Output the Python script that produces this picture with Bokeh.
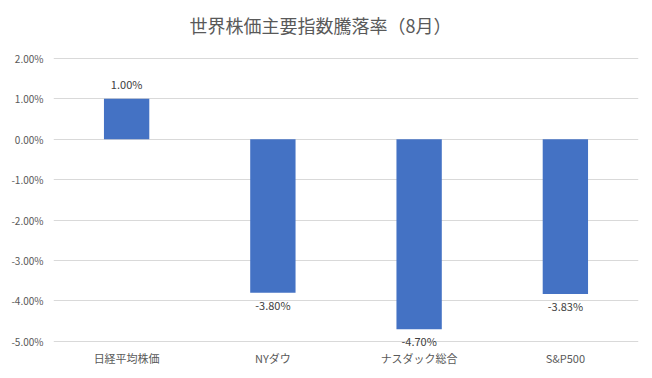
from bokeh.plotting import figure
from bokeh.models import ColumnDataSource, NumeralTickFormatter, FixedTicker, LabelSet, Label, Range1d
from bokeh.core.properties import value
from bokeh.embed import file_html
from bokeh.resources import INLINE

title_text = "世界株価主要指数騰落率（8月）"
categories = ["日経平均株価", "NYダウ", "ナスダック総合", "S&P500"]
values = [0.0100, -0.0380, -0.0470, -0.0383]
value_labels = ["1.00%", "-3.80%", "-4.70%", "-3.83%"]
y_ticks = [-0.05, -0.04, -0.03, -0.02, -0.01, 0.0, 0.01, 0.02]

FONT = "Noto Sans CJK JP"

source = ColumnDataSource(dict(cat=categories, val=values, lab=value_labels,
                               base=[0.0] * len(values),
                               yoff=[7 if v > 0 else -4 for v in values],
                               anchor=["bottom" if v > 0 else "top" for v in values]))

# extended range so the title and labels can sit inside the (invisible) frame area
p = figure(width=652, height=378, x_range=categories, y_range=Range1d(-0.0535, 0.03431),
           output_backend="svg", toolbar_location=None,
           min_border_left=53, min_border_right=14, min_border_top=0, min_border_bottom=23)

p.vbar(x="cat", top="val", bottom="base", width=0.31, source=source,
       fill_color="#4472C4", line_color=None)

labels = LabelSet(x="cat", y="val", y_offset="yoff", text="lab", source=source, text_align="center",
                  text_baseline="anchor", text_font_size="11px", text_color="#404040",
                  text_font=value(FONT))
p.add_layout(labels)

title = Label(x=267, y=0.0282, x_units="screen", y_units="data", text=title_text,
              text_align="center", text_baseline="middle", text_font=FONT,
              text_font_size="18px", text_color="#595959")
p.add_layout(title)

p.yaxis.ticker = FixedTicker(ticks=y_ticks)
p.yaxis.formatter = NumeralTickFormatter(format="0.00%")
p.yaxis.axis_line_color = None
p.yaxis.major_tick_line_color = None
p.yaxis.minor_tick_line_color = None
p.yaxis.major_tick_out = 0
p.yaxis.major_tick_in = 0
p.yaxis.minor_tick_out = 0
p.yaxis.major_label_text_font = FONT
p.yaxis.major_label_text_font_size = "10px"
p.yaxis.major_label_text_color = "#595959"
p.yaxis.major_label_standoff = 10

p.xaxis.axis_line_color = None
p.xaxis.major_tick_line_color = None
p.xaxis.major_tick_out = 0
p.xaxis.major_tick_in = 0
p.xaxis.major_label_text_font = FONT
p.xaxis.major_label_text_font_size = "11px"
p.xaxis.major_label_text_color = "#595959"
p.xaxis.major_label_standoff = -6

p.xgrid.grid_line_color = None
p.ygrid.ticker = FixedTicker(ticks=y_ticks)
p.ygrid.grid_line_color = "#D9D9D9"
p.outline_line_color = None
p.background_fill_color = "white"
p.border_fill_color = "white"

open("out.html", "w").write(file_html(p, INLINE))
